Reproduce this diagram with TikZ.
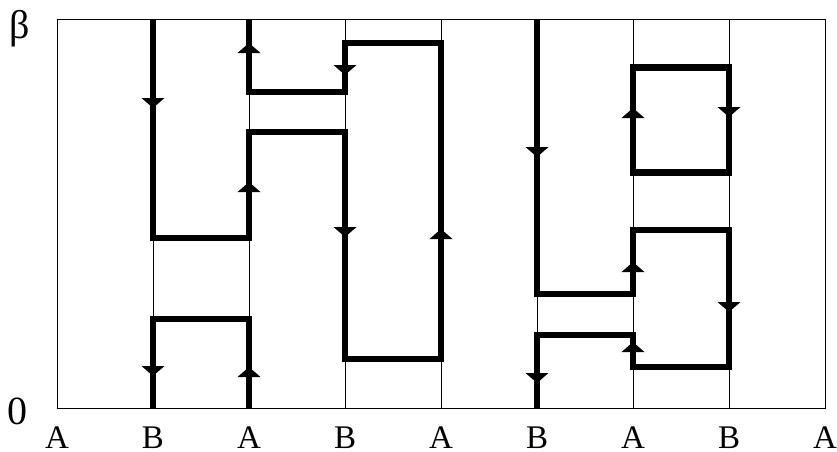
\documentclass[tikz,border=0pt]{standalone}
\usepackage{fontspec}
\setmainfont{Liberation Serif}
\newcommand\arrowdn[2]{\fill ({#1-11.5},{#2-10}) -- ({#1+11.5},{#2-10}) -- (#1,#2) -- cycle;}
\newcommand\arrowupw[2]{\fill ({#1-11.5},{#2+10}) -- ({#1+11.5},{#2+10}) -- (#1,#2) -- cycle;}
\begin{document}
\begin{tikzpicture}[x=1pt,y=-1pt,
  heavy/.style={line width=6.5pt, line join=miter},
  thin/.style={line width=0.9pt},
  lab/.style={font=\fontsize{33}{33}\selectfont, anchor=base, inner sep=0pt, text depth=0pt},
  axlab/.style={font=\fontsize{40}{40}\selectfont, anchor=base, inner sep=0pt}]
\useasboundingbox (0,0) rectangle (837,451);
% frame and strip boundaries
\draw[thin] (57,19.5) rectangle (825,408);
\foreach \x in {153,249,...,729} \draw[thin] (\x,19.5) -- (\x,408);
% thick paths
\draw[heavy] (153,19.5) -- (153,238) -- (249,238) -- (249,132) -- (345,132) -- (345,359) -- (441,359) -- (441,43) -- (345,43) -- (345,92) -- (249,92) -- (249,19.5);
\draw[heavy] (153,408) -- (153,319) -- (249,319) -- (249,408);
\draw[heavy] (537,19.5) -- (537,294) -- (633,294) -- (633,230) -- (729,230) -- (729,367) -- (633,367) -- (633,335) -- (537,335) -- (537,408);
\draw[heavy] (633,67.5) rectangle (729,172.5);
% arrowheads
\arrowdn{153}{108}
\arrowdn{345}{75}
\arrowdn{345}{237}
\arrowdn{537}{157}
\arrowdn{729}{117}
\arrowdn{729}{312}
\arrowdn{153}{376}
\arrowdn{537}{383}
\arrowupw{249}{43}
\arrowupw{249}{182}
\arrowupw{441}{229}
\arrowupw{249}{367}
\arrowupw{633}{108}
\arrowupw{633}{262}
\arrowupw{633}{342}
% labels
\node[axlab] (beta) at (20,38) {β};
\node[axlab] (zero) at (18,424) {0};
\foreach \l [count=\i from 0] in {A,B,A,B,A,B,A,B,A}
  \node[lab] (l\i) at ({57+96*\i},448) {\l};
\end{tikzpicture}
\end{document}
